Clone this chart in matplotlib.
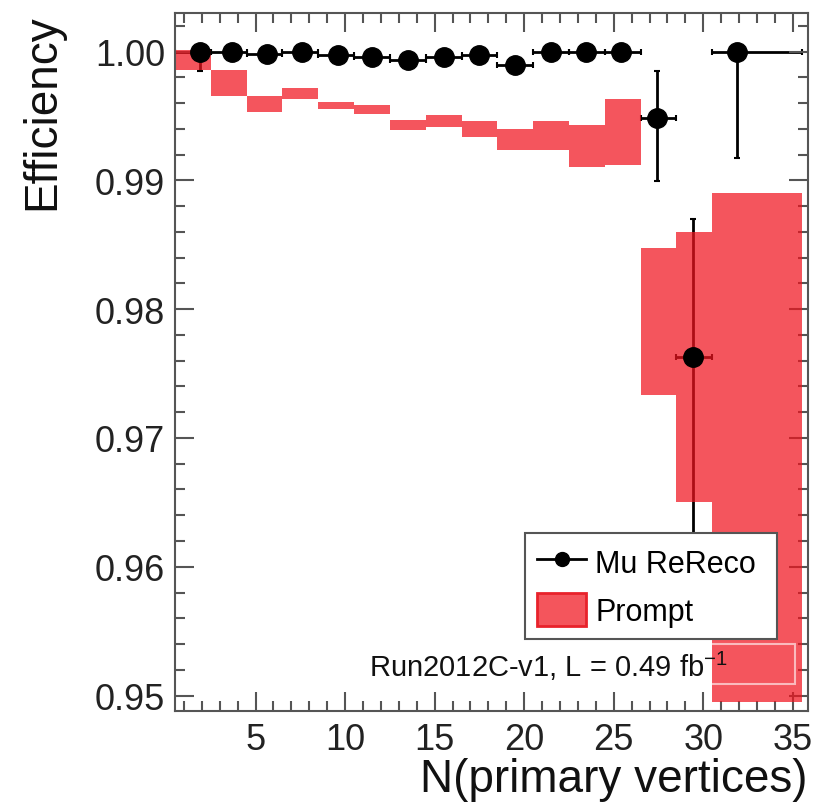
import numpy as np
import matplotlib.pyplot as plt
from matplotlib.ticker import MultipleLocator, FormatStrFormatter
from matplotlib.lines import Line2D
from matplotlib.patches import Patch, Rectangle

plt.rcParams['font.family'] = ['Liberation Sans', 'DejaVu Sans']

# bin edges in N(primary vertices)
bin_lo = [0.5, 2.5, 4.5, 6.5, 8.5, 10.5, 12.5, 14.5, 16.5, 18.5, 20.5, 22.5, 24.5, 26.5, 28.5, 30.5]
bin_hi = [2.5, 4.5, 6.5, 8.5, 10.5, 12.5, 14.5, 16.5, 18.5, 20.5, 22.5, 24.5, 26.5, 28.5, 30.5, 35.5]

# Prompt efficiency band (low / high edge per bin)
prompt_lo = [0.99854, 0.99655, 0.99531, 0.99629, 0.99551, 0.99518, 0.99388, 0.99414,
             0.99337, 0.99233, 0.99233, 0.99104, 0.99122, 0.97331, 0.96503, 0.9495]
prompt_hi = [1.0001, 0.99854, 0.99655, 0.99717, 0.99609, 0.99588, 0.99466, 0.99505,
             0.99458, 0.99401, 0.99458, 0.99432, 0.99634, 0.98475, 0.98599, 0.98904]

# Mu ReReco points
mu_x = [1.9, 3.7, 5.65, 7.6, 9.6, 11.5, 13.5, 15.5, 17.5, 19.5, 21.5, 23.45, 25.4, 27.4, 29.4, 31.9]
mu_y = [1.0000, 1.0000, 0.99984, 1.0000, 0.9997, 0.9996, 0.99937, 0.9996,
        0.9997, 0.99893, 1.0000, 1.0000, 1.0000, 0.99487, 0.97629, 1.0000]
mu_err_lo = [0.0015, 0.0002, 0.0002, 0.0002, 0.0002, 0.0002, 0.0002, 0.0002,
             0.0002, 0.0003, 0.0002, 0.0002, 0.0002, 0.00488, 0.0183, 0.00826]
mu_err_hi = [0.0, 0.0, 0.0001, 0.0, 0.0002, 0.0002, 0.0002, 0.0002,
             0.0002, 0.0003, 0.0, 0.0, 0.0, 0.00362, 0.01074, 0.0]

red = '#F0141E'

fig = plt.figure(figsize=(8.24, 8.04), dpi=100)
ax = fig.add_axes([175/824, 92/804, 633/824, 698/804])

# red band, drawn over the error bar lines (which then look dark red)
lo = np.array(prompt_lo)
hi = np.array(prompt_hi)
ax.bar(bin_lo, hi - lo, width=np.array(bin_hi) - np.array(bin_lo), bottom=lo,
       align='edge', color=red, alpha=0.72, linewidth=0, zorder=2)

x = np.array(mu_x)
xerr = [x - np.array(bin_lo), np.array(bin_hi) - x]
ax.errorbar(x, mu_y, xerr=xerr, yerr=[mu_err_lo, mu_err_hi], fmt='none',
            ecolor='black', elinewidth=2, capsize=2.5, capthick=1.5, zorder=1)
ax.plot(x, mu_y, 'o', color='black', ms=14, zorder=3)

ax.set_xlim(0.5, 35.85)
ax.set_ylim(0.9488, 1.003)

ax.xaxis.set_major_locator(MultipleLocator(5))
ax.xaxis.set_minor_locator(MultipleLocator(1))
ax.yaxis.set_major_locator(MultipleLocator(0.01))
ax.yaxis.set_minor_locator(MultipleLocator(0.002))
ax.yaxis.set_major_formatter(FormatStrFormatter('%.2f'))

# ROOT style ticks on all four sides
ax.tick_params(which='both', direction='in', top=True, right=True,
               color='#555555', width=1.5, labelsize=26, labelcolor='#222222')
ax.tick_params(which='major', length=14)
ax.tick_params(which='minor', length=7)
ax.tick_params(axis='y', pad=7)
ax.tick_params(axis='x', pad=8)
for s in ax.spines.values():
    s.set_color('#555555')
    s.set_linewidth(1.5)

ax.set_xlabel('N(primary vertices)', fontsize=33, loc='right', labelpad=0, color='#111111')
ax.set_ylabel('Efficiency', fontsize=33, loc='top', labelpad=22, color='#111111')

handles = [Line2D([], [], color='black', lw=2, marker='o', ms=10),
           Patch(facecolor='#F4555C', edgecolor='#E8222B', linewidth=2)]
leg = ax.legend(handles, ['Mu ReReco', 'Prompt'], loc='upper left',
                bbox_to_anchor=(0.553, 0.110, 0.398, 0.145), mode='expand',
                borderaxespad=0, fontsize=22, handlelength=1.6, handleheight=1.3,
                handletextpad=0.3, frameon=True, fancybox=False, edgecolor='#555555',
                framealpha=1, borderpad=0.4, labelspacing=0.45)
leg.get_frame().set_linewidth(1.5)
leg.set_zorder(6)

ax.add_patch(Rectangle((0.292, 0.039), 0.687, 0.057, transform=ax.transAxes,
                       facecolor='none', edgecolor='white', alpha=0.6, lw=1.5, zorder=4))
ax.text(0.874, 0.050, 'Run2012C-v1, L = 0.49 fb$^{\\mathregular{-1}}$', transform=ax.transAxes,
        ha='right', va='baseline', fontsize=21, color='#111111', zorder=5)

fig.savefig('out.png', dpi=100)
